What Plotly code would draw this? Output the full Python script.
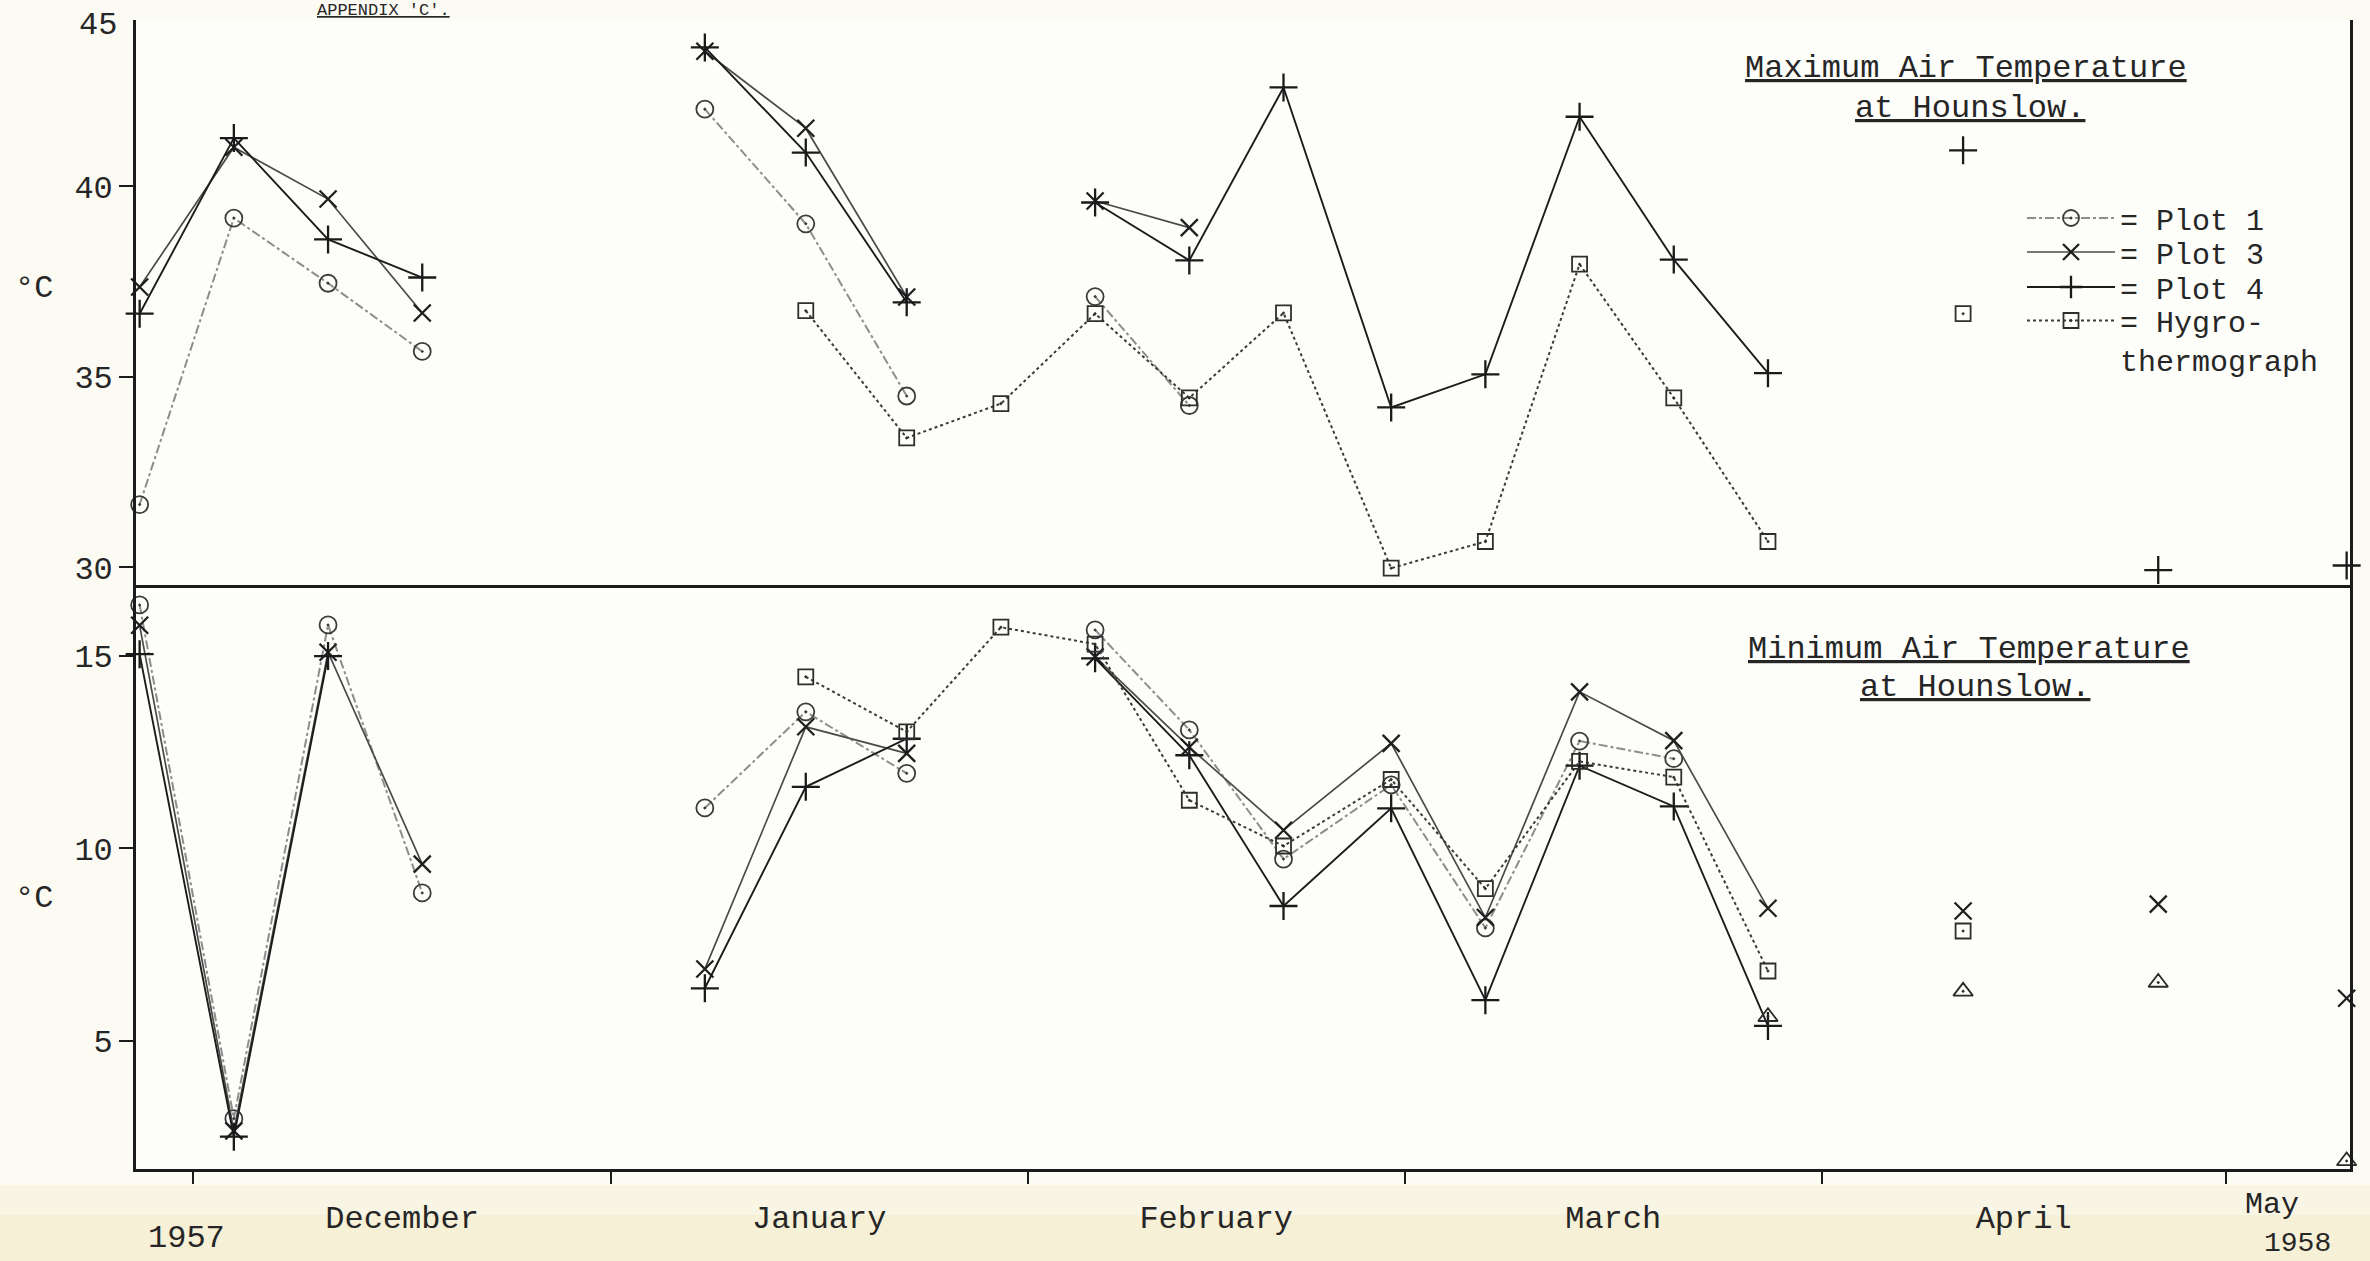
import plotly.graph_objects as go

# ---------------------------------------------------------------------------
# Weekly readings, Hounslow, winter 1957-58 (deg C)
# ---------------------------------------------------------------------------
week_dates = ["1957-11-27", "1957-12-04", "1957-12-11", "1957-12-18",
              "1957-12-25", "1958-01-01", "1958-01-08", "1958-01-15 12:00",
              "1958-01-23", "1958-01-30", "1958-02-06", "1958-02-13",
              "1958-02-20", "1958-02-28", "1958-03-07", "1958-03-14",
              "1958-03-21", "1958-03-28"]

# maximum air temperature
plot1_max = [31.65, 39.17, 37.46, 35.67, None, None, 42.03, 39.02, 34.50, None,
             37.11, 34.25, None, None, None, None, None, None]
plot3_max = [37.36, 41.03, 39.67, 36.68, None, None, 43.55, 41.53, 37.10, None,
             39.62, 38.92, None, None, None, None, None, None]
plot4_max = [36.66, 41.27, 38.61, 37.61, None, None, 43.65, 40.89, 36.96, None,
             39.58, 38.06, 42.60, 34.20, 35.07, 41.83, 38.08, 35.10]
hygro_max = [None, None, None, None, None, None, None, 36.74, 33.40, 34.30,
             36.66, 34.45, 36.68, 29.98, 30.68, 37.96, 34.45, 30.68]

# minimum air temperature
plot1_min = [16.33, 2.97, 15.81, 8.84, None, None, 11.05, 13.55, 11.95, None,
             15.68, 13.08, 9.72, 11.65, 7.93, 12.79, 12.33, None]
plot3_min = [15.80, 2.65, 15.10, 9.59, None, None, 6.86, 13.16, 12.47, None,
             14.98, 12.63, 10.47, 12.73, 8.20, 14.07, 12.80, 8.44]
plot4_min = [15.05, 2.50, 15.00, None, None, None, 6.36, 11.60, 12.85, None,
             14.94, 12.42, 8.50, 11.04, 6.05, 12.15, 11.09, 5.38]
hygro_min = [None, None, None, None, None, None, None, 14.46, 13.03, 15.75,
             15.31, 11.25, 10.06, 11.79, 8.95, 12.26, 11.85, 6.81]

# isolated spot readings, April - May 1958
spot_dates = ["1958-04-11 12:00", "1958-04-26", "1958-05-10"]
plot4_max_spot = [40.95, 29.93, 30.05]
hygro_max_spot = [36.66, None, None]
plot3_min_spot = [8.37, 8.55, 6.10]
hygro_min_spot = [7.85, None, None]

# triangle readings (minimum only)
tri_dates = ["1958-03-28", "1958-04-11 12:00", "1958-04-26", "1958-05-10"]
tri_min = [5.62, 6.28, 6.51, 1.87]

# axis labelling
max_ticks = [30, 35, 40]
min_ticks = [5, 10, 15]
legend_names = {"p1": "= Plot 1", "p3": "= Plot 3", "p4": "= Plot 4",
                "hy": "= Hygro-<br>thermograph"}

# ---------------------------------------------------------------------------
FONT = "Liberation Mono"
INK = "#262626"

styles = {
    "p1": dict(line=dict(color="#8d8d8d", width=2, dash="dashdot"),
               marker=dict(symbol="circle-open-dot", size=17,
                           line=dict(width=1.8, color="#3c3c3c"), color="#3c3c3c")),
    "p3": dict(line=dict(color="#4a4a4a", width=1.7),
               marker=dict(symbol="x-thin-open", size=17,
                           line=dict(width=2.3, color="#1f1f1f"), color="#1f1f1f")),
    "p4": dict(line=dict(color="#1c1c1c", width=1.9),
               marker=dict(symbol="cross-thin-open", size=20,
                           line=dict(width=2.3, color="#1a1a1a"), color="#1a1a1a")),
    "hy": dict(line=dict(color="#3a3a3a", width=2, dash="dot"),
               marker=dict(symbol="square-open-dot", size=15,
                           line=dict(width=1.8, color="#2e2e2e"), color="#2e2e2e")),
    "tri": dict(line=dict(color="#3a3a3a", width=1.5),
                marker=dict(symbol="triangle-up-open-dot", size=17,
                            line=dict(width=1.8, color="#2a2a2a"), color="#2a2a2a")),
}
legend_ids = {"p1": "legend", "p3": "legend2", "p4": "legend3", "hy": "legend4"}

fig = go.Figure()


def add(key, x, y, yaxis, mode="lines+markers", legend=False, name=None):
    st = styles[key]
    fig.add_trace(go.Scatter(
        x=x, y=y, mode=mode, yaxis=yaxis, xaxis="x",
        line=st["line"], marker=st["marker"],
        name=name or legend_names.get(key, key),
        legendgroup=key, showlegend=legend,
        legend=legend_ids.get(key, "legend"),
        connectgaps=False, cliponaxis=False,
        hovertemplate="%{x|%d %b %Y}: %{y:.1f} °C<extra></extra>",
    ))


# upper panel: maxima
add("p1", week_dates, plot1_max, "y", legend=True)
add("p3", week_dates, plot3_max, "y", legend=True)
add("p4", week_dates, plot4_max, "y", legend=True)
add("hy", week_dates, hygro_max, "y", legend=True)
add("p4", spot_dates, plot4_max_spot, "y", mode="markers")
add("hy", spot_dates, hygro_max_spot, "y", mode="markers")

# lower panel: minima
add("p1", week_dates, plot1_min, "y2")
add("p3", week_dates, plot3_min, "y2")
add("p4", week_dates, plot4_min, "y2")
add("hy", week_dates, hygro_min, "y2")
add("p3", spot_dates, plot3_min_spot, "y2", mode="markers")
add("hy", spot_dates, hygro_min_spot, "y2", mode="markers")
add("tri", tri_dates, tri_min, "y2", mode="markers", name="Δ")

# ---------------------------------------------------------------------------
W, H = 2370, 1261
ML, MR, MT, MB = 136, 20, 20, 92
PH = H - MT - MB
PW = W - ML - MR
split = 581 / PH

axis_line = dict(showline=True, linewidth=2.6, linecolor="#1b1b1b", mirror=True,
                 showgrid=False, zeroline=False)
tick_font = dict(family=FONT, size=32, color=INK)

fig.update_layout(
    width=W, height=H,
    margin=dict(l=ML, r=MR, t=MT, b=MB, pad=0, autoexpand=False),
    paper_bgcolor="#fbfaf3",
    plot_bgcolor="#fdfdfa",
    font=dict(family=FONT, size=32, color=INK),
    xaxis=dict(
        type="date", anchor="y2",
        range=["1957-11-26 17:30", "1958-05-10 06:00"],
        tickmode="linear", tick0="1957-12-01", dtick="M1",
        ticklabelmode="period", tickformat="%B",
        ticks="outside", ticklen=12, tickwidth=2, tickcolor="#1b1b1b",
        ticklabelstandoff=6, tickfont=tick_font, **axis_line),
    xaxis2=dict(matches="x", anchor="y", showticklabels=False, ticks="",
                **axis_line),
    yaxis=dict(domain=[split, 1], range=[29.46, 44.37], tickvals=max_ticks,
               ticks="outside", ticklen=14, tickwidth=2, tickcolor="#1b1b1b",
               tickfont=tick_font, **axis_line),
    yaxis2=dict(domain=[0, split], range=[1.66, 16.77], tickvals=min_ticks,
                ticks="outside", ticklen=14, tickwidth=2, tickcolor="#1b1b1b",
                tickfont=tick_font, **axis_line),
    hovermode="closest",
)


def px(xfull):
    return (xfull - ML) / PW


def py(yfull):
    return (H - MB - yfull) / PH


# one legend block per series so the rows keep the typed line spacing
leg_common = dict(font=dict(family=FONT, size=30, color=INK),
                  bgcolor="rgba(0,0,0,0)", borderwidth=0, itemwidth=88,
                  xanchor="left", x=px(2022), tracegroupgap=0)

fig.update_layout(
    legend=dict(**leg_common, yanchor="middle", y=py(218)),
    legend2=dict(**leg_common, yanchor="middle", y=py(252)),
    legend3=dict(**leg_common, yanchor="middle", y=py(287)),
    legend4=dict(**leg_common, yanchor="middle", y=py(340), valign="top"),
)

notes = [
    # panel titles
    dict(text="<u>Maximum Air Temperature</u>", x=px(1966), y=py(69), size=32),
    dict(text="<u>at Hounslow.</u>", x=px(1970), y=py(108), size=32),
    dict(text="<u>Minimum Air Temperature</u>", x=px(1969), y=py(649), size=32),
    dict(text="<u>at Hounslow.</u>", x=px(1975), y=py(687), size=32),
    # unit labels
    dict(text="°C", x=px(34), y=py(288), size=32),
    dict(text="°C", x=px(34), y=py(898), size=32),
    # year labels and the last month
    dict(text="1957", x=px(186), y=py(1238), size=32),
    dict(text="May", x=px(2272), y=py(1205), size=30),
    dict(text="1958", x=px(2297), y=py(1243), size=28),
]
for n in notes:
    size = n.pop("size")
    fig.add_annotation(xref="paper", yref="paper", showarrow=False,
                       xanchor="center", yanchor="middle",
                       font=dict(family=FONT, size=size, color=INK), **n)

# heading at the top of the sheet, above the frame
fig.add_annotation(xref="paper", yref="paper", x=px(383), y=py(10),
                   xanchor="center", yanchor="middle", showarrow=False,
                   text="<u>APPENDIX 'C'.</u>",
                   font=dict(family=FONT, size=17, color=INK))

# top label of the maximum scale
fig.add_annotation(xref="paper", yref="paper", x=0, y=1, xanchor="right",
                   yanchor="middle", xshift=-17, yshift=-5, showarrow=False,
                   text="45", font=dict(family=FONT, size=32, color=INK))

# faint yellowing of the sheet towards the lower edge
for y0, y1, col in [(1185, 1215, "rgba(244,236,200,0.35)"),
                    (1215, 1275, "rgba(242,232,190,0.55)")]:
    fig.add_shape(type="rect", xref="paper", yref="paper", x0=px(-10), x1=px(2380),
                  y0=py(y1), y1=py(y0), fillcolor=col, line=dict(width=0),
                  layer="below")

fig.write_html("out.html")
